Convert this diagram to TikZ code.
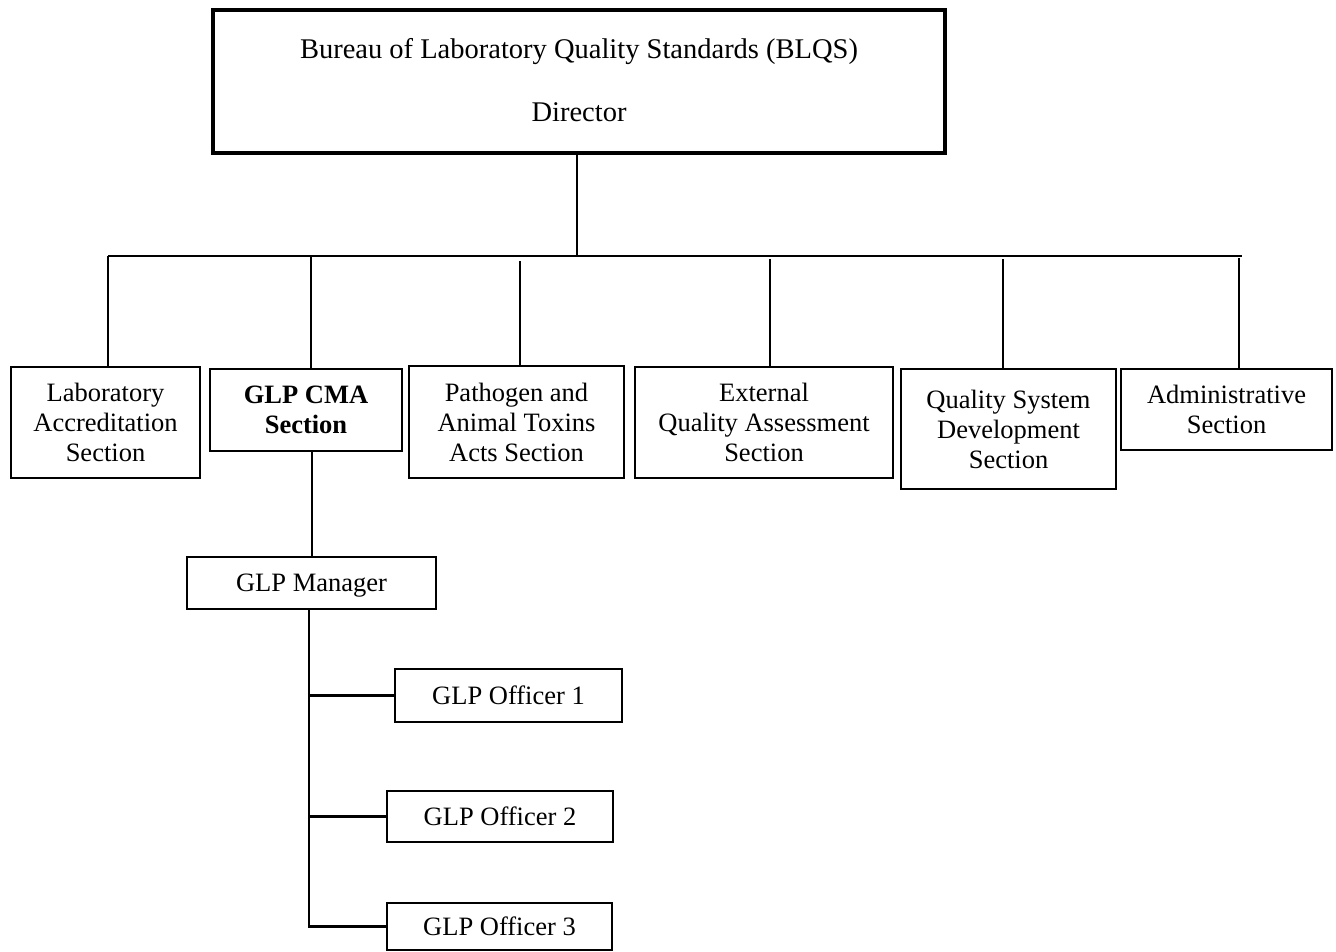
\documentclass[tikz,border=0pt]{standalone}
\usepackage{fontspec}
\setmainfont{Liberation Serif}
\begin{document}
\begin{tikzpicture}[x=1pt,y=-1pt,
  box/.style={draw, line width=2.4pt, inner sep=0pt, align=center,
    font=\fontsize{26.5}{30}\selectfont},
  conn/.style={line width=2.2pt}]
\useasboundingbox (0,0) rectangle (1336,952);
\node[box, line width=3.2pt, minimum width=732pt, minimum height=143pt,
  font=\fontsize{28.5}{31.5}\selectfont] (dir) at (579,81.5)
  {Bureau of Laboratory Quality Standards (BLQS)\\[31.5pt]Director\\[-29pt]\mbox{}};
\node[box, minimum width=189pt, minimum height=111pt] (lab) at (105.5,422.5)
  {Laboratory\\Accreditation\\Section};
\node[box, minimum width=192pt, minimum height=82pt] (cma) at (306,410)
  {\bfseries GLP CMA\\\bfseries Section};
\node[box, minimum width=215pt, minimum height=112pt] (path) at (516.5,422)
  {Pathogen and\\Animal Toxins\\Acts Section};
\node[box, minimum width=258pt, minimum height=111pt] (ext) at (764,422.5)
  {External\\Quality Assessment\\Section};
\node[box, minimum width=215pt, minimum height=120pt] (qsd) at (1008.5,429)
  {Quality System\\Development\\Section};
\node[box, minimum width=211pt, minimum height=81pt] (adm) at (1226.5,409.5)
  {Administrative\\Section};
\node[box, minimum width=249pt, minimum height=52pt, text depth=1pt] (mgr) at (311.5,583)
  {GLP Manager};
\node[box, minimum width=227pt, minimum height=53pt] (o1) at (508.5,695.5)
  {GLP Officer 1};
\node[box, minimum width=226pt, minimum height=51pt] (o2) at (500,816.5)
  {GLP Officer 2};
\node[box, minimum width=225pt, minimum height=47pt] (o3) at (499.5,926.5)
  {GLP Officer 3};
% bus
\coordinate (busL) at (108,256);
\coordinate (busR) at (1242,256);
\coordinate (dx) at (577,256);
\draw[conn] (dir.south -| dx) -- (dx);
\draw[conn] (busL) -- (busR);
\coordinate (tlab) at (108,256);
\coordinate (tcma) at (311,256);
\coordinate (tpath) at (520,261);
\coordinate (text) at (770,259);
\coordinate (tqsd) at (1003,259);
\coordinate (tadm) at (1239,258);
\draw[conn] (tlab) -- (tlab |- lab.north);
\draw[conn] (tcma) -- (tcma |- cma.north);
\draw[conn] (tpath) -- (tpath |- path.north);
\draw[conn] (text) -- (text |- ext.north);
\draw[conn] (tqsd) -- (tqsd |- qsd.north);
\draw[conn] (tadm) -- (tadm |- adm.north);
% manager
\coordinate (tmgr) at (312,0);
\draw[conn] (cma.south -| tmgr) -- (mgr.north -| tmgr);
\coordinate (mx) at (309,0);
\draw[conn] (mgr.south -| mx) -- (o3.west -| mx) -- (o3.west);
\draw[conn] (o1.west -| mx) -- (o1.west);
\draw[conn] (o2.west -| mx) -- (o2.west);
\end{tikzpicture}
\end{document}
